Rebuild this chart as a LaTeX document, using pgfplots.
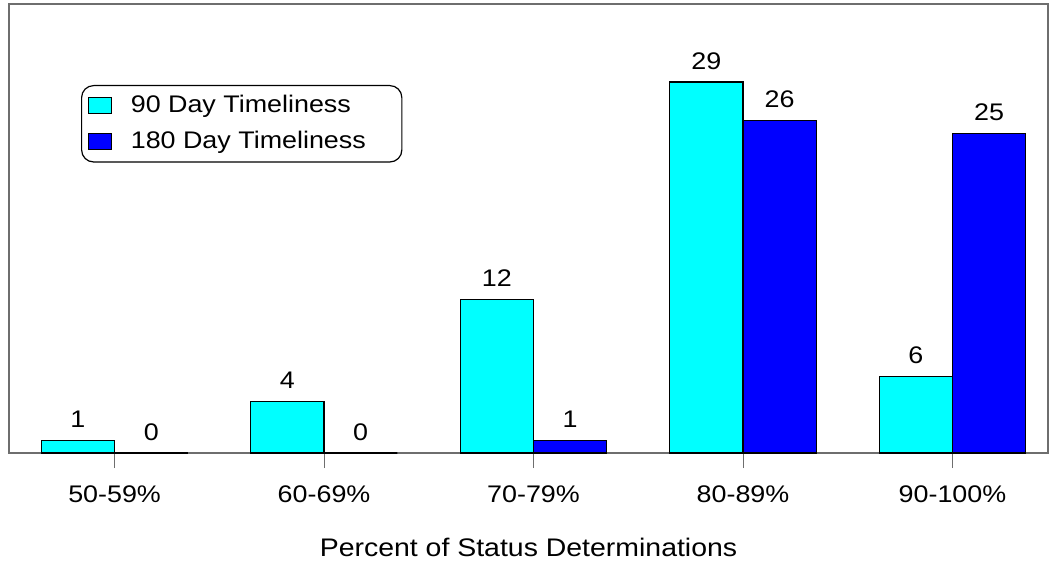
\documentclass[border=0pt]{standalone}
\usepackage{fontspec}
\setmainfont{Liberation Sans}[FakeStretch=1.12]
\usepackage{pgfplots}
\pgfplotsset{compat=1.18}
\definecolor{cyanbar}{RGB}{0,255,255}
\definecolor{bluebar}{RGB}{0,0,255}
\definecolor{framegray}{RGB}{110,110,110}
\pgfplotstableread{
x v90 v180
0 1 0
1 4 0
2 12 1
3 29 26
4 6 25
}\datatable
\begin{document}
\begin{tikzpicture}
\useasboundingbox (-4.5pt,-54.5pt) rectangle (520pt,226.5pt);
\begin{axis}[
  at={(0,0)}, anchor=south west,
  scale only axis, width=519.5pt, height=224.5pt,
  xmin=-0.504, xmax=4.456, ymin=0, ymax=35.1,
  /pgf/number format/assume math mode=true,
  ybar=0pt, bar width=0.35,
  xtick=data, xticklabels={50-59\%,60-69\%,70-79\%,80-89\%,90-100\%},
  xtick pos=bottom,
  ytick=\empty,
  tick align=outside, major tick length=7.5pt,
  xtick style={draw=framegray, line width=0.5pt},
  axis line style={draw=framegray, line width=0.6pt},
  xticklabel style={anchor=base, yshift=-17pt, font=\fontsize{12}{14}\selectfont},
  xlabel={Percent of Status Determinations},
  xlabel style={at={(axis description cs:0.5,0)}, anchor=base, yshift=-51.5pt, font=\fontsize{12.7}{15}\selectfont},
  nodes near coords,
  every node near coord/.append style={anchor=base, yshift=6.5pt, font=\fontsize{12}{14}\selectfont, text=black},
  legend style={at={(0.0693,0.8196)}, anchor=north west, draw=black, line width=0.6pt, rounded corners=6pt,
    font=\fontsize{12}{14}\selectfont, inner xsep=3pt, inner ysep=3pt, row sep=3.8pt},
  legend cell align=left,
  legend image code/.code={\draw[#1,draw=black,line width=0.6pt,sharp corners] (0pt,-4pt) rectangle (11.5pt,4pt); \path (19pt,0pt);},
]
\addplot[fill=cyanbar, draw=black, line width=0.6pt, bar shift=-0.175] table[x=x,y=v90] {\datatable};
\addplot[fill=bluebar, draw=black, line width=0.6pt, bar shift=0.175] table[x=x,y=v180] {\datatable};
\legend{90 Day Timeliness, 180 Day Timeliness\hspace*{13pt}}
\end{axis}
\end{tikzpicture}
\end{document}
